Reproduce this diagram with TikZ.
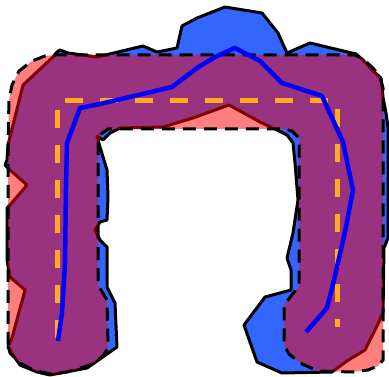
\documentclass[tikz,border=0pt]{standalone}
\usepackage{tikz}
\definecolor{regionblue}{RGB}{51,102,255}
\definecolor{skelorange}{RGB}{255,170,34}
\definecolor{pathblue}{RGB}{0,0,255}
\tikzset{
  bluearea/.style={fill=regionblue, draw=black, line width=3pt, line join=round},
  redarea/.style={fill=red, fill opacity=0.5},
  redoutline/.style={draw=black, line width=3pt, dash pattern=on 13pt off 8pt},
  skeleton/.style={draw=skelorange, line width=5pt, dash pattern=on 18pt off 17pt},
  route/.style={draw=pathblue, line width=4.5pt, line join=round}
}
\begin{document}
\begin{tikzpicture}[x=1pt,y=-1pt]
\useasboundingbox (0,0) rectangle (389,377);
% blue region
\path[bluearea] (8,145) -- (23,85) -- (53,57) -- (57,52) -- (60,50) -- (68,53) -- (97,57) -- (143,46) -- (157,52) -- (177,48) -- (182,26) -- (197,18) -- (225,7) -- (262,13) -- (278,33) -- (287,53) -- (310,43) -- (356,54) -- (363,60) -- (372,70) -- (381,78) -- (383,97) -- (386,113) -- (388,127) -- (388,238) -- (384,248) -- (383,312) -- (378,324) -- (365,350) -- (347,361) -- (332,372) -- (282,373) -- (257,362) -- (244,325) -- (265,297) -- (291,290) -- (291,270) -- (287,258) -- (293,233) -- (298,200) -- (295,163) -- (293,143) -- (287,135) -- (275,129) -- (260,122) -- (229,105) -- (193,118) -- (163,127) -- (120,128) -- (110,133) -- (103,140) -- (97,136) -- (100,147) -- (107,170) -- (108,197) -- (107,220) -- (100,222) -- (95,230) -- (100,240) -- (107,247) -- (107,287) -- (115,303) -- (117,347) -- (100,359) -- (87,368) -- (50,375) -- (37,372) -- (20,365) -- (13,355) -- (8,347) -- (12,338) -- (25,290) -- (10,277) -- (7,260) -- (7,208) -- (10,205) -- (27,185) -- (10,170) -- (5,165) -- (7,160) -- cycle;
% red region
\path[redarea] (8,345) -- (8,145) -- (9,100) -- (12,85) -- (19,71) -- (32,61) -- (45,56) -- (55,55) -- (355,55) -- (363,59) -- (373,68) -- (380,77) -- (383,88) -- (383,360) -- (378,366) -- (368,370) -- (353,372) -- (318,371) -- (300,363) -- (289,354) -- (284,345) -- (284,305) -- (299,286) -- (299,138) -- (292,131) -- (283,129) -- (108,129) -- (101,134) -- (98,143) -- (98,285) -- (107,300) -- (108,348) -- (103,356) -- (90,365) -- (67,372) -- (50,374) -- (33,370) -- (20,363) -- (10,353) -- cycle;
\path[redoutline] (8,345) -- (8,145) -- (9,100) -- (12,85) -- (19,71) -- (32,61) -- (45,56) -- (55,55) -- (355,55) -- (363,59) -- (373,68) -- (380,77) -- (383,88) -- (383,360) -- (378,366) -- (368,370) -- (353,372) -- (318,371) -- (300,363) -- (289,354) -- (284,345) -- (284,305) -- (299,286) -- (299,138) -- (292,131) -- (283,129) -- (108,129) -- (101,134) -- (98,143) -- (98,285) -- (107,300) -- (108,348) -- (103,356) -- (90,365) -- (67,372) -- (50,374) -- (33,370) -- (20,363) -- (10,353) -- cycle;
% skeleton
\coordinate (s1) at (57,338);
\coordinate (s2) at (57,101);
\coordinate (s3) at (337,101);
\coordinate (s4) at (337,327);
\draw[skeleton] (s1) -- (s2) -- (s3) -- (s4);
% route
\coordinate (r0) at (58,341);
\coordinate (r1) at (306,332);
\draw[route] (r0) -- (62,313) -- (65,264) -- (66,187) -- (67,143) -- (80,108) -- (100,104) -- (172,87) -- (197,68) -- (215,57) -- (235,48) -- (260,61) -- (282,83) -- (322,96) -- (343,142) -- (353,190) -- (345,232) -- (334,280) -- (327,308) -- (r1);
\end{tikzpicture}
\end{document}
